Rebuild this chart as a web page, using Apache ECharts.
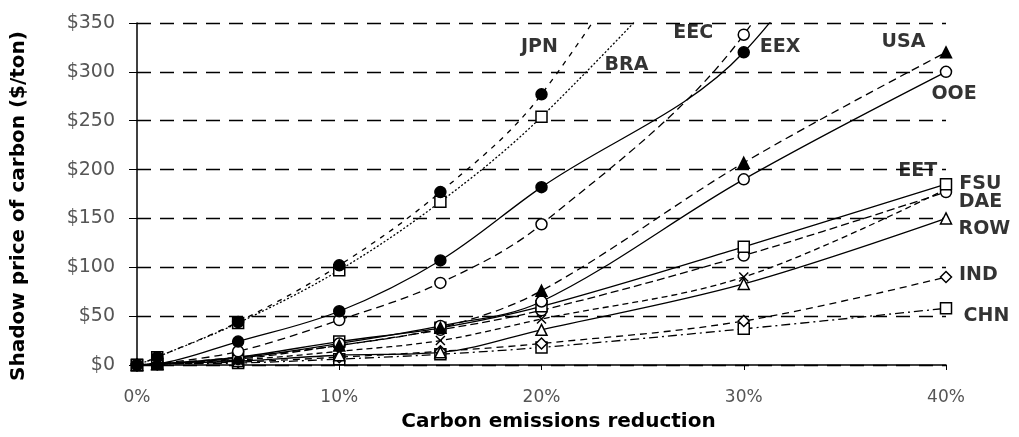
<!DOCTYPE html>
<html>
<head>
<meta charset="utf-8">
<script src="https://cdn.jsdelivr.net/npm/echarts@6/dist/echarts.min.js"></script>
<style>
html,body{margin:0;padding:0;background:#fff;}
#chart{width:1019px;height:437px;}
</style>
</head>
<body>
<div id="chart"></div>
<script>
// ---- data ----
var xValues = [0, 1, 5, 10, 15, 20, 30, 40];            // carbon emissions reduction, %
var yTicks  = [0, 50, 100, 150, 200, 250, 300, 350];    // $/ton
var JPN = [0, 8, 44, 102, 177, 277, 590, null];
var BRA = [0, 8, 43, 97, 167, 254, 470, null];
var EEC = [0, 1, 14, 46, 84, 144, 338, 700];
var EEX = [0, 1, 24, 55, 107, 182, 320, 620];
var USA = [0, 1, 8, 20, 38, 76, 207, 320];
var OOE = [0, 1, 7, 22, 40, 65, 190, 300];
var EET = [0, 1, 5, 14, 25, 47, 90, 180];
var FSU = [0, 1, 8, 24, 38, 60, 121, 185];
var DAE = [0, 1, 6, 20, 36, 56, 112, 177];
var ROW = [0, 1, 4, 10, 13, 36, 83, 150];
var IND = [0, 1, 3, 8, 14, 22, 45, 90];
var CHN = [0, 1, 2, 6, 11, 18, 37, 58];
// region name labels, anchored in data space (x %, y $/ton)
var labelNames = ['JPN', 'BRA', 'EEC', 'EEX', 'USA', 'OOE', 'EET', 'FSU', 'DAE', 'ROW', 'IND', 'CHN'];
var labelX     = [19.9, 24.2, 27.5, 31.8, 37.9, 40.4, 38.6, 41.7, 41.7, 41.9, 41.6, 42.0];
var labelY     = [325, 307, 340, 325, 331, 277, 198, 185, 167, 139, 92, 50];

// ---- build ----
function pairs(arr) {
  var out = [];
  for (var i = 0; i < xValues.length; i++) {
    if (arr[i] !== null && arr[i] !== undefined) out.push([xValues[i], arr[i]]);
  }
  return out;
}
var X_SYMBOL = 'path://M0,0L10,10M10,0L0,10';
function line(name, arr, symbol, filled, dash, size) {
  return {
    name: name, type: 'line', data: pairs(arr), smooth: 0.35, clip: true,
    symbol: symbol, symbolSize: size || 11, showAllSymbol: true,
    lineStyle: { color: '#000', width: 1.3, type: dash },
    itemStyle: { color: filled ? '#000' : '#fff', borderColor: '#000', borderWidth: 1.5 },
    emphasis: { disabled: true }
  };
}
var series = [
  line('CHN', CHN, 'rect', false, [9, 4, 2, 4]),
  line('IND', IND, 'diamond', false, [7, 5]),
  line('ROW', ROW, 'triangle', false, 'solid'),
  line('EET', EET, X_SYMBOL, false, [6, 4], 9),
  line('DAE', DAE, 'circle', false, [8, 4]),
  line('FSU', FSU, 'rect', false, 'solid'),
  line('OOE', OOE, 'circle', false, 'solid'),
  line('USA', USA, 'triangle', true, [8, 5]),
  line('EEC', EEC, 'circle', false, [8, 5]),
  line('EEX', EEX, 'circle', true, 'solid'),
  line('BRA', BRA, 'rect', false, [2, 2]),
  line('JPN', JPN, 'circle', true, [5, 6])
];
var labelData = [];
for (var i = 0; i < labelNames.length; i++) labelData.push({ value: [labelX[i], labelY[i]], name: labelNames[i] });
series.push({
  type: 'scatter', data: labelData, symbol: 'circle', symbolSize: 1, clip: false, silent: true,
  itemStyle: { color: 'rgba(0,0,0,0)' },
  label: {
    show: true, position: 'inside', formatter: '{b}',
    fontFamily: 'DejaVu Sans', fontWeight: 'bold', fontSize: 19, color: '#000',
    textBorderWidth: 0
  },
  z: 10
});

var chart = echarts.init(document.getElementById('chart'), null, { renderer: 'canvas' });
chart.setOption({
  animation: false,
  backgroundColor: '#fff',
  grid: { left: 137, right: 73, top: 23, bottom: 70, containLabel: false },
  xAxis: {
    type: 'value', min: 0, max: 40, interval: 10,
    name: 'Carbon emissions reduction', nameLocation: 'middle', nameGap: 47,
    nameTextStyle: { fontFamily: 'DejaVu Sans', fontWeight: 'bold', fontSize: 20, color: '#000', padding: [0, 0, 0, 34] },
    axisLine: { onZero: false, lineStyle: { color: '#000', width: 1.5 } },
    axisTick: { show: true, length: 5, lineStyle: { color: '#000' } },
    axisLabel: { formatter: function (v) { return v + '%'; }, fontFamily: 'DejaVu Sans', fontSize: 17, color: '#555', margin: 24 },
    splitLine: { show: false }
  },
  yAxis: {
    type: 'value', min: yTicks[0], max: yTicks[yTicks.length - 1], interval: yTicks[1] - yTicks[0],
    name: 'Shadow price of carbon ($/ton)', nameLocation: 'middle', nameGap: 108, nameRotate: 90,
    nameTextStyle: { fontFamily: 'DejaVu Sans', fontWeight: 'bold', fontSize: 20, color: '#000', padding: [0, 24, 0, 0] },
    axisLine: { show: true, lineStyle: { color: '#000', width: 1.5 } },
    axisTick: { show: true, length: 8, lineStyle: { color: '#000' } },
    axisLabel: { formatter: function (v) { return '$' + v; }, fontFamily: 'DejaVu Sans', fontSize: 19, color: '#555', margin: 22 },
    splitLine: { show: true, lineStyle: { color: '#000', width: 1.3, type: [14, 9] } }
  },
  series: series
});
</script>
</body>
</html>
